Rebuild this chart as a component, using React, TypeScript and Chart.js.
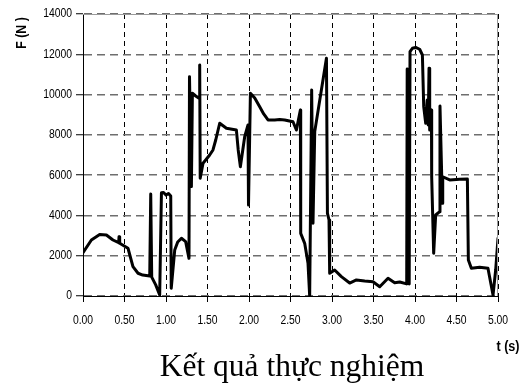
import React, { useEffect, useRef } from "react";
import { Chart, registerables } from "chart.js";

Chart.register(...registerables);

// time (s)
const T: number[] = [
  0.0, 0.101, 0.201, 0.282, 0.361, 0.43, 0.434, 0.442, 0.542, 0.602, 0.663, 0.719, 0.804,
  0.816, 0.828, 0.876, 0.924, 0.945, 0.97, 1.0, 1.03, 1.057, 1.063, 1.105, 1.141, 1.186,
  1.237, 1.277, 1.283, 1.306, 1.318, 1.358, 1.398, 1.406, 1.412, 1.446, 1.478, 1.526,
  1.566, 1.599, 1.647, 1.728, 1.848, 1.87, 1.896, 1.948, 1.988, 1.994, 2.017, 2.069,
  2.129, 2.177, 2.229, 2.31, 2.37, 2.43, 2.53, 2.571, 2.619, 2.623, 2.671, 2.711, 2.731,
  2.755, 2.771, 2.792, 2.933, 2.945, 2.964, 2.972, 3.032, 3.113, 3.213, 3.294, 3.394,
  3.494, 3.575, 3.675, 3.755, 3.816, 3.9, 3.906, 3.916, 3.93, 3.94, 3.969, 4.008, 4.056,
  4.089, 4.105, 4.129, 4.147, 4.159, 4.169, 4.177, 4.198, 4.201, 4.225, 4.249, 4.298,
  4.301, 4.33, 4.334, 4.418, 4.538, 4.631, 4.643, 4.679, 4.779, 4.879, 4.94, 4.972, 5.0,
];

// force (N)
const F: number[] = [
  2150, 2780, 3050, 3030, 2780, 2650, 2940, 2620, 2370, 1455, 1130, 1040, 990,
  5060, 940, 550, 50, 5130, 5140, 5010, 5090, 4965, 380, 2280, 2680, 2865,
  2700, 1870, 10890, 5430, 10065, 9930, 9815, 11470, 5845, 6590, 6750, 7000,
  7250, 7745, 8575, 8325, 8240, 7250, 6420, 7910, 8490, 4520, 10065, 9830,
  9400, 9040, 8740, 8740, 8760, 8740, 8650, 8240, 9235, 3110, 2615, 1620, 0,
  10230, 3610, 8160, 11800, 4105, 3775, 1130, 1290, 960, 645, 795, 745,
  710, 460, 880, 660, 695, 600, 11270, 4915, 600, 12130, 12300, 12340, 12250,
  11965, 9400, 8575, 9730, 8490, 11305, 8240, 9235, 5920, 2120, 4020, 4185,
  9430, 4600, 5920, 5760, 5795, 5810, 1790, 1375, 1425, 1375, 50, 1290, 2865,
];

const X_MIN = 0;
const X_MAX = 5;
const X_STEP = 0.5;
const Y_MIN = 0;
const Y_MAX = 14000;
const Y_STEP = 2000;

const Y_TITLE = "F (N )";
const X_TITLE = "t (s)";
const CAPTION = "Kết quả thực nghiệm";

const SANS = "'Liberation Sans', Arial, sans-serif";
const SQUEEZE = 0.83;

function narrowText(ctx: CanvasRenderingContext2D, text: string, x: number, y: number, sx: number) {
  ctx.save();
  ctx.translate(x, y);
  ctx.scale(sx, 1);
  ctx.fillText(text, 0, 0);
  ctx.restore();
}

export default function App() {
  const ref = useRef<HTMLCanvasElement | null>(null);

  useEffect(() => {
    const canvas = ref.current;
    if (!canvas) return;

    const textPlugin = {
      id: "extras",
      afterDraw(chart: any) {
        const { ctx, chartArea } = chart;
        ctx.save();
        // top & right frame
        ctx.strokeStyle = "#9a9a9a";
        ctx.lineWidth = 1;
        ctx.setLineDash([]);
        ctx.beginPath();
        ctx.moveTo(chartArea.left, chartArea.top + 0.5);
        ctx.lineTo(chartArea.right, chartArea.top + 0.5);
        ctx.moveTo(chartArea.right - 0.5, chartArea.top);
        ctx.lineTo(chartArea.right - 0.5, chartArea.bottom);
        ctx.stroke();

        ctx.fillStyle = "#000";
        // tick labels (condensed, like Arial Narrow)
        ctx.font = "12.5px " + SANS;
        const xs = chart.scales.x;
        ctx.textAlign = "center";
        ctx.textBaseline = "middle";
        xs.ticks.forEach((t: any) => {
          const px = xs.getPixelForValue(t.value);
          narrowText(ctx, Number(t.value).toFixed(2), px, 321, SQUEEZE);
        });
        const ys = chart.scales.y;
        ctx.textAlign = "right";
        ys.ticks.forEach((t: any) => {
          const py = ys.getPixelForValue(t.value);
          narrowText(ctx, String(t.value), 72, py, SQUEEZE);
        });

        // y title rotated
        ctx.save();
        ctx.translate(22, 33);
        ctx.rotate(-Math.PI / 2);
        ctx.font = "bold 14px " + SANS;
        ctx.textAlign = "center";
        ctx.textBaseline = "middle";
        narrowText(ctx, Y_TITLE, 0, 0, 0.88);
        ctx.restore();

        // x title
        ctx.font = "bold 14px " + SANS;
        ctx.textAlign = "center";
        ctx.textBaseline = "middle";
        narrowText(ctx, X_TITLE, 508, 347, 0.9);

        // caption
        ctx.font = "31.5px 'Liberation Serif', 'Times New Roman', serif";
        ctx.textAlign = "center";
        ctx.textBaseline = "alphabetic";
        ctx.fillText(CAPTION, 292, 376);
        ctx.restore();
      },
    };

    const chart = new Chart(canvas, {
      type: "line",
      data: {
        datasets: [
          {
            data: T.map((t, i) => ({ x: t, y: F[i] })),
            borderColor: "#000",
            borderWidth: 3,
            pointRadius: 0,
            tension: 0,
            borderJoinStyle: "round",
            borderCapStyle: "round",
          },
        ],
      },
      options: {
        responsive: false,
        animation: false,
        devicePixelRatio: 1,
        layout: { padding: { left: 0, top: 14, right: 29, bottom: 0 } },
        plugins: { legend: { display: false }, tooltip: { enabled: false } },
        scales: {
          x: {
            type: "linear",
            min: X_MIN,
            max: X_MAX,
            afterFit: (s: any) => {
              s.height = 88;
            },
            ticks: {
              stepSize: X_STEP,
              color: "rgba(0,0,0,0)",
              padding: 6,
              maxRotation: 0,
              font: { family: SANS, size: 12.5 },
              callback: (v: any) => Number(v).toFixed(2),
            },
            grid: {
              color: "#000",
              lineWidth: 1,
              tickLength: 6,
              tickColor: "#000",
              tickWidth: 1,
            },
            border: { display: true, color: "#000", width: 1, dash: [5, 4] },
          },
          y: {
            type: "linear",
            min: Y_MIN,
            max: Y_MAX,
            afterFit: (s: any) => {
              s.width = 83;
            },
            ticks: {
              stepSize: Y_STEP,
              color: "rgba(0,0,0,0)",
              padding: 4,
              font: { family: SANS, size: 12.5 },
              callback: (v: any) => String(v),
            },
            grid: {
              color: "#6e6e6e",
              lineWidth: 1.5,
              tickLength: 7,
              tickColor: "#000",
              tickWidth: 1,
            },
            border: { display: true, color: "#000", width: 1, dash: [8, 5] },
          },
        },
      },
      plugins: [textPlugin],
    } as any);

    return () => chart.destroy();
  }, []);

  return (
    <div style={{ position: "absolute", left: 0, top: 0, width: 527, height: 384, background: "#fff" }}>
      <canvas ref={ref} width={527} height={384} style={{ display: "block", width: 527, height: 384 }} />
    </div>
  );
}
